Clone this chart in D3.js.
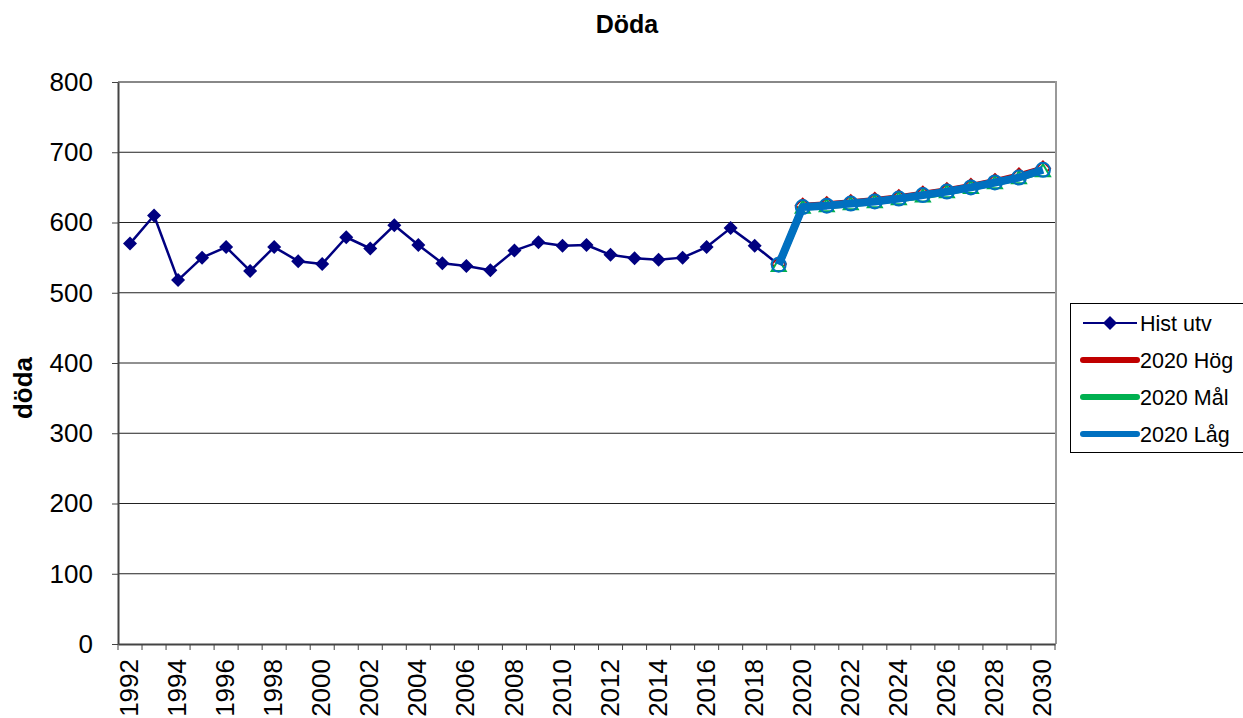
<!DOCTYPE html>
<html>
<head>
<meta charset="utf-8">
<script src="https://cdn.jsdelivr.net/npm/d3@7"></script>
<style>
  body { margin: 0; background: #fff; }
  svg text { font-family: "Liberation Sans", Arial, sans-serif; }
</style>
</head>
<body>
<div id="chart"></div>
<script>
// Data
const years = d3.range(1992, 2031)
const histYears = d3.range(1992, 2020)
const histValues = [570, 610, 518, 550, 565, 531, 565, 545, 541, 579, 563, 596, 568, 542,
    538, 532, 560, 572, 567, 568, 554, 549, 547, 550, 565, 592, 567, 540]
const projYears = d3.range(2019, 2031)
const hogValues = [541, 624, 626, 629, 632, 636, 641, 646, 652, 659, 667, 677]
const malValues = [538, 621, 623, 626, 629, 633, 637, 643, 649, 656, 663, 673]
const lagValues = [540, 622, 624, 627, 630, 634, 639, 644, 650, 657, 664, 675]
const yTicks = [0, 100, 200, 300, 400, 500, 600, 700, 800]

const series = [
    { name: "Hist utv", years: histYears, values: histValues, color: "#000080", width: 2.5, marker: "diamond" },
    { name: "2020 Hög", years: projYears, values: hogValues, color: "#C00000", width: 6, marker: "diamondOpen" },
    { name: "2020 Mål", years: projYears, values: malValues, color: "#00B050", width: 6, marker: "triangle" },
    { name: "2020 Låg", years: projYears, values: lagValues, color: "#0070C0", width: 8, marker: "circle" }
]

// Dimensions
const dimensions = {
    width: 1243,
    height: 718,
    plot: { left: 118, right: 1055, top: 82, bottom: 644 }
}

const wrapper = d3.select("#chart").append("svg")
    .attr("width", dimensions.width)
    .attr("height", dimensions.height)

// Scales
const x = d3.scaleBand()
    .domain(years)
    .range([dimensions.plot.left, dimensions.plot.right])
const y = d3.scaleLinear()
    .domain([0, 800])
    .range([dimensions.plot.bottom, dimensions.plot.top])
const cx = d => x(d) + x.bandwidth() / 2

// Gridlines
wrapper.append("g")
    .selectAll("line")
    .data(yTicks.filter(d => d > 0))
    .join("line")
        .attr("x1", dimensions.plot.left)
        .attr("x2", dimensions.plot.right)
        .attr("y1", d => y(d))
        .attr("y2", d => y(d))
        .attr("stroke", d => d == 800 ? "#888" : "#222")
        .attr("stroke-width", d => d == 800 ? 2 : 1)

// right border
wrapper.append("line")
    .attr("x1", dimensions.plot.right + 1)
    .attr("x2", dimensions.plot.right + 1)
    .attr("y1", dimensions.plot.top - 1)
    .attr("y2", dimensions.plot.bottom)
    .attr("stroke", "#999")
    .attr("stroke-width", 2)

// Y axis
const yAxis = wrapper.append("g")
    .attr("transform", `translate(${dimensions.plot.left}, 0)`)
    .call(d3.axisLeft(y).tickValues(yTicks).tickSizeOuter(0).tickSizeInner(6).tickPadding(19))
yAxis.select(".domain").attr("stroke", "#444").attr("stroke-width", 2)
yAxis.selectAll(".tick line").attr("stroke", "#444")
yAxis.selectAll("text")
    .attr("fill", "#000")
    .style("font-size", "26px")
    .style("font-family", "Liberation Sans, Arial, sans-serif")

// X axis
const xAxis = wrapper.append("g")
    .attr("transform", `translate(0, ${dimensions.plot.bottom})`)
    .call(d3.axisBottom(x).tickSize(0).tickFormat(d => d % 2 == 0 ? d : ""))
xAxis.select(".domain").attr("stroke", "#444").attr("stroke-width", 2)
xAxis.selectAll("text")
    .attr("fill", "#000")
    .style("font-size", "26px")
    .style("font-family", "Liberation Sans, Arial, sans-serif")
    .attr("transform", "rotate(-90)")
    .attr("text-anchor", "end")
    .attr("x", -15)
    .attr("y", -1)
    .attr("dy", "0.35em")

// category boundary ticks
wrapper.append("g")
    .selectAll("line")
    .data(years.concat([2031]))
    .join("line")
        .attr("x1", d => d == 2031 ? dimensions.plot.right : x(d))
        .attr("x2", d => d == 2031 ? dimensions.plot.right : x(d))
        .attr("y1", dimensions.plot.bottom)
        .attr("y2", dimensions.plot.bottom + 6)
        .attr("stroke", "#444")

// Markers
function drawMarker(g, type, color, px, py) {
    if (type == "diamond") {
        g.append("path")
            .attr("d", `M${px},${py - 7}L${px + 7},${py}L${px},${py + 7}L${px - 7},${py}Z`)
            .attr("fill", color)
    } else if (type == "diamondOpen") {
        g.append("path")
            .attr("d", `M${px},${py - 7}L${px + 7},${py}L${px},${py + 7}L${px - 7},${py}Z`)
            .attr("fill", "#fff").attr("stroke", color).attr("stroke-width", 2)
    } else if (type == "triangle") {
        g.append("path")
            .attr("d", `M${px},${py - 7}L${px + 7},${py + 5}L${px - 7},${py + 5}Z`)
            .attr("fill", "#fff").attr("stroke", color).attr("stroke-width", 2)
    } else if (type == "circle") {
        g.append("circle")
            .attr("cx", px).attr("cy", py).attr("r", 7)
            .attr("fill", "none").attr("stroke", color).attr("stroke-width", 2)
    }
}

const line = d3.line()
    .x(d => cx(d[0]))
    .y(d => y(d[1]))

series.forEach(s => {
    const pts = s.years.map((yr, i) => [yr, s.values[i]])
    const g = wrapper.append("g")
    g.append("path")
        .datum(pts)
        .attr("d", line)
        .attr("fill", "none")
        .attr("stroke", s.color)
        .attr("stroke-width", s.width)
        .attr("stroke-linejoin", "round")
    pts.forEach(p => drawMarker(g, s.marker, s.color, cx(p[0]), y(p[1])))
})

// Titles
wrapper.append("text")
    .attr("x", 627)
    .attr("y", 33)
    .attr("text-anchor", "middle")
    .attr("font-size", 25)
    .attr("font-weight", "bold")
    .text("Döda")

wrapper.append("text")
    .attr("transform", `translate(32, 388) rotate(-90)`)
    .attr("text-anchor", "middle")
    .attr("font-size", 26)
    .attr("font-weight", "bold")
    .text("döda")

// Legend
const legend = wrapper.append("g")
legend.append("rect")
    .attr("x", 1070.5)
    .attr("y", 303.5)
    .attr("width", 180)
    .attr("height", 149)
    .attr("fill", "#fff")
    .attr("stroke", "#000")

series.forEach((s, i) => {
    const ly = 323 + i * 37
    const item = legend.append("g")
    item.append("line")
        .attr("x1", 1083).attr("x2", 1137)
        .attr("y1", ly).attr("y2", ly)
        .attr("stroke", s.color)
        .attr("stroke-width", i == 0 ? 2 : 6)
        .attr("stroke-linecap", i == 0 ? "butt" : "round")
    if (i == 0) {
        drawMarker(item, "diamond", s.color, 1110, ly)
    } else {
        item.append("circle").attr("cx", 1110).attr("cy", ly).attr("r", 3).attr("fill", s.color)
    }
    item.append("text")
        .attr("x", 1140)
        .attr("y", ly)
        .attr("dy", "0.35em")
        .attr("font-size", 21.5)
        .text(s.name)
})
</script>
</body>
</html>
